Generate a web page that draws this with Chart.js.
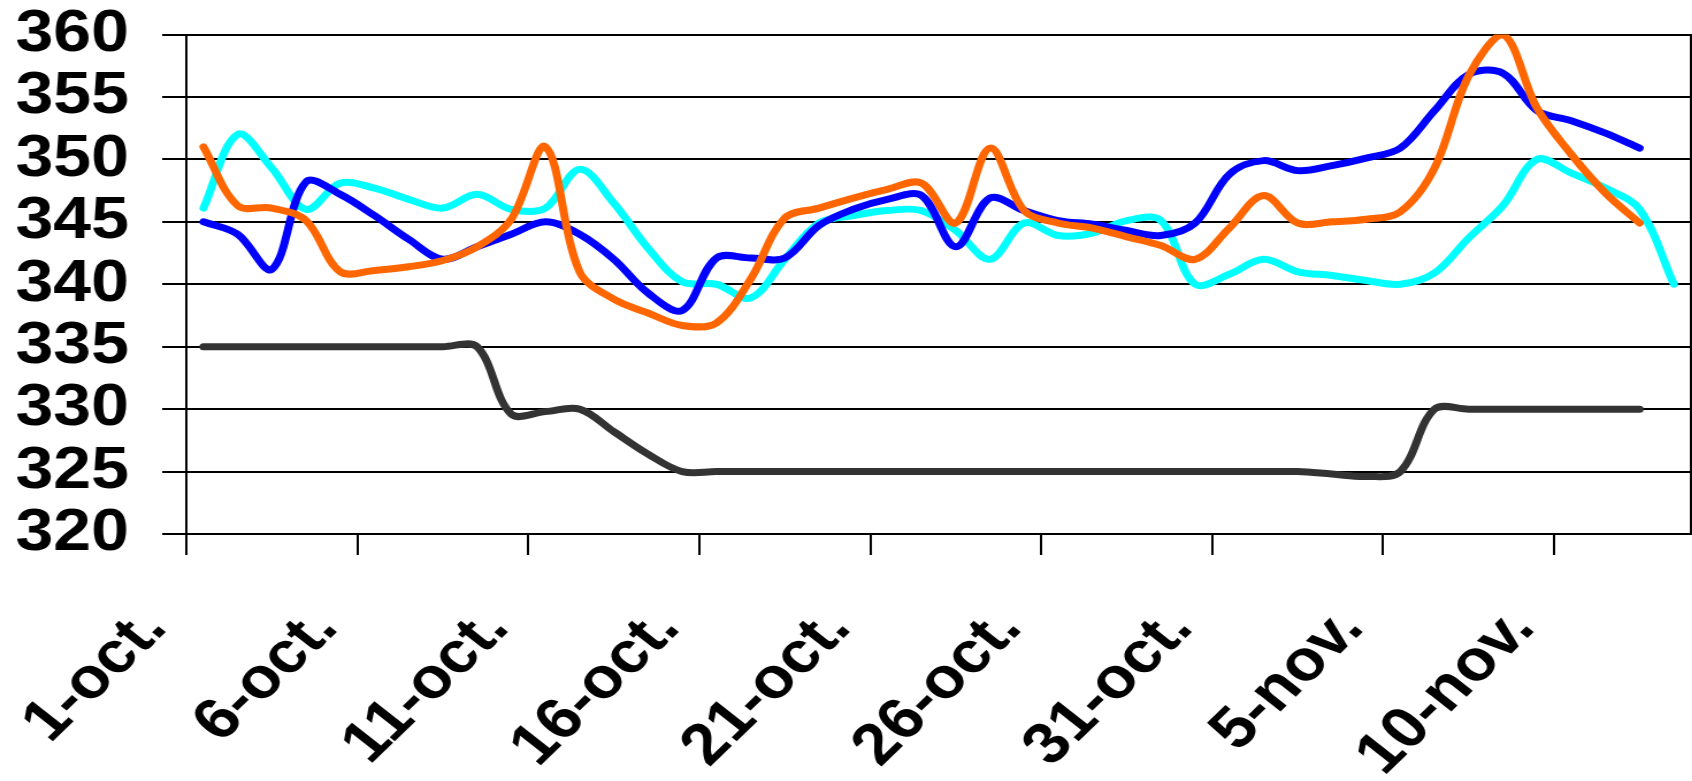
<!DOCTYPE html>
<html>
<head>
<meta charset="utf-8">
<script src="https://cdn.jsdelivr.net/npm/chart.js@4.4.1/dist/chart.umd.min.js"></script>
<style>
  html, body { margin: 0; padding: 0; background: #fff; }
  /* the original picture is stretched sideways, so the chart is drawn narrow and widened */
  #wrap { width: 1471px; height: 781px; transform: scaleX(1.1503); transform-origin: 0 0; }
</style>
</head>
<body>
<div id="wrap"><canvas id="chart" width="1471" height="781"></canvas></div>
<script>
"use strict";

// ─── Axis labels ───────────────────────────────────────────────────────────
const TICK_DAYS   = [0, 5, 10, 15, 20, 25, 30, 35, 40];
const TICK_LABELS = ["1-oct.", "6-oct.", "11-oct.", "16-oct.", "21-oct.",
                     "26-oct.", "31-oct.", "5-nov.", "10-nov."];
const DAY_COUNT   = 44;   // 1-oct. .. 13-nov.

// ─── Daily values, first entry = 1-oct. ────────────────────────────────────
const BLUE = [
  345.0, 344.0, 341.2, 348.2, 347.2, 345.5, 343.6, 342.0, 343.0, 344.0,
  345.0, 344.0, 342.0, 339.3, 337.9, 342.1, 342.1, 342.1, 344.7, 346.0,
  346.8, 347.1, 343.0, 346.9, 345.9, 345.1, 344.8, 344.3, 343.9, 344.9,
  348.8, 349.9, 349.1, 349.5, 350.1, 350.9, 353.9, 356.8, 356.9, 353.9,
  353.1, 352.1, 350.9
];
const CYAN = [
  346.1, 352.0, 349.3, 346.0, 348.1, 347.7, 346.8, 346.1, 347.2, 346.0,
  346.1, 349.2, 346.5, 342.9, 340.2, 340.0, 338.9, 342.0, 344.9, 345.5,
  345.9, 345.9, 344.3, 342.0, 344.9, 343.9, 344.1, 345.1, 345.1, 340.0,
  340.8, 342.0, 341.0, 340.7, 340.3, 340.0, 340.9, 343.7, 346.3, 350.0,
  348.9, 347.7, 346.0, 340.0
];
const ORANGE = [
  351.0, 346.3, 346.1, 345.1, 341.0, 341.1, 341.4, 341.9, 343.0, 345.2,
  351.0, 341.0, 338.8, 337.7, 336.7, 336.9, 340.4, 345.3, 346.1, 346.9,
  347.6, 348.1, 344.9, 350.9, 345.9, 344.9, 344.5, 343.8, 343.1, 342.0,
  344.5, 347.1, 344.9, 345.0, 345.2, 345.8, 349.3, 356.7, 360.0, 354.1,
  350.4, 347.3, 344.9
];
const BLACK = [
  335, 335, 335, 335, 335, 335, 335, 335, 335, 329.6,
  329.8, 330, 328.2, 326.4, 325, 325, 325, 325, 325, 325,
  325, 325, 325, 325, 325, 325, 325, 325, 325, 325,
  325, 325, 325, 324.8, 324.6, 325, 330, 330, 330, 330,
  330, 330, 330
];

// each day sits in the middle of its slot
const toPoints = arr => arr.map((v, i) => ({ x: i + 0.5, y: v }));

function series(values, colour) {
  return {
    data:            toPoints(values),
    borderColor:     colour,
    borderWidth:     7,
    pointRadius:     0,
    tension:         0.35,
    fill:            false,
    borderCapStyle:  "round",
    borderJoinStyle: "round",
  };
}

const FONT = { family: "'Liberation Sans', Arial, sans-serif", size: 59, weight: "bold" };

new Chart(document.getElementById("chart"), {
  type: "line",
  data: {
    // first dataset is painted last, so orange ends on top
    datasets: [
      series(ORANGE, "#ff6600"),
      series(BLUE,   "#0000ff"),
      series(CYAN,   "#00ffff"),
      series(BLACK,  "#333333"),
    ],
  },
  options: {
    responsive:       false,
    devicePixelRatio: 1,
    animation:        false,
    layout: { padding: { left: 0, right: 1, top: 0, bottom: 0 } },
    plugins: {
      legend:  { display: false },
      tooltip: { enabled: false },
    },
    scales: {
      x: {
        type: "linear",
        min:  0,
        max:  DAY_COUNT,
        afterBuildTicks: scale => { scale.ticks = TICK_DAYS.map(v => ({ value: v })); },
        afterFit: scale => { scale.height = 247; },
        grid:   { drawOnChartArea: false, drawTicks: true, tickLength: 21, color: "#000", lineWidth: 2 },
        border: { color: "#000", width: 2 },
        ticks: {
          autoSkip:    false,
          minRotation: 48,
          maxRotation: 48,
          padding:     40,
          labelOffset: -27,
          color:       "#000",
          font:        Object.assign({}, FONT, { size: 58, lineHeight: 1.2 }),
          callback:    v => TICK_LABELS[TICK_DAYS.indexOf(v)] ?? "",
        },
      },
      y: {
        min: 320,
        max: 360,
        afterFit: scale => { scale.width = 162; },
        grid:   { color: "#000", lineWidth: 2, tickLength: 21 },
        border: { color: "#000", width: 2 },
        ticks: {
          stepSize: 5,
          autoSkip: false,
          padding:  29,
          color:    "#000",
          // tiny line height keeps the plot top where the 360 label sits
          font:     Object.assign({ lineHeight: "11px" }, FONT),
        },
      },
      // right-hand frame of the plot area
      y2: {
        position: "right",
        min: 320,
        max: 360,
        grid:   { drawOnChartArea: false, drawTicks: false },
        border: { color: "#000", width: 2 },
        ticks:  { display: false },
      },
    },
  },
});
</script>
</body>
</html>
